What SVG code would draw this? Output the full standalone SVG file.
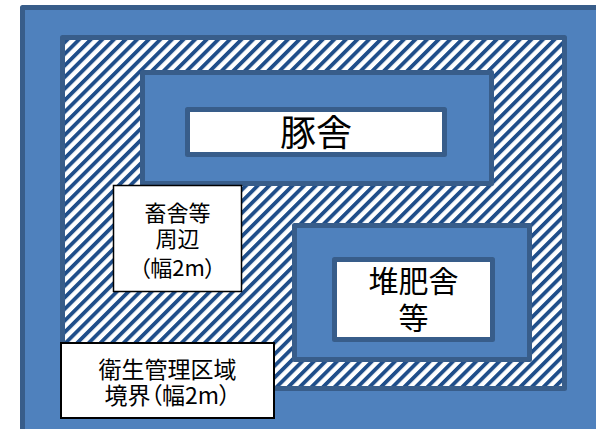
<svg xmlns="http://www.w3.org/2000/svg" width="596" height="429" viewBox="0 0 596 429">
  <style>
    .area { fill: #4F81BD; stroke: #385D8A; stroke-width: 5; stroke-linejoin: round; }
    .inner { fill: #FFFFFF; stroke: #385D8A; stroke-width: 5; stroke-linejoin: round; }
    .label { fill: #FFFFFF; stroke: #000000; }
    .t { font-family: "Noto Sans CJK JP", "Noto Sans", sans-serif; fill: #000000; text-anchor: middle; }
    .p { font-feature-settings: "palt"; }
  </style>
  <defs>
    <pattern id="hatch" patternUnits="userSpaceOnUse" width="8.2" height="8.2" patternTransform="rotate(45)">
      <rect x="0" y="0" width="8.2" height="8.2" fill="#FFFFFF"/>
      <rect x="0" y="0" width="3.8" height="8.2" fill="#1F4E8A"/>
    </pattern>
  </defs>

  <g id="outer-area">
    <rect class="area" x="22.5" y="7.5" width="580" height="425"/>
  </g>

  <g id="hatched-zone">
    <rect x="62.5" y="37.5" width="502" height="351" fill="url(#hatch)" stroke="#385D8A" stroke-width="5" stroke-linejoin="round"/>
  </g>

  <g id="pig-house-area">
    <rect class="area" x="142.5" y="72.5" width="349" height="111"/>
  </g>

  <g id="pig-house">
    <rect class="inner" x="187.5" y="109.5" width="257" height="45"/>
    <text class="t" x="316" y="146" font-size="36">豚舎</text>
  </g>

  <g id="compost-area">
    <rect class="area" x="294.5" y="225.5" width="235" height="134"/>
  </g>

  <g id="compost-house">
    <rect class="inner" x="334.5" y="259.5" width="158" height="80"/>
    <text class="t" font-size="30"><tspan x="413.5" y="292">堆肥舎</tspan><tspan x="413.5" y="328.5">等</tspan></text>
  </g>

  <g id="surroundings-label">
    <rect class="label" x="113.5" y="185.5" width="128" height="106" stroke-width="1.5"/>
    <text class="t" font-size="22"><tspan x="177.5" y="220.5">畜舎等</tspan><tspan x="177.5" y="247">周辺</tspan><tspan x="177.5" y="275.5"><tspan class="p">（</tspan>幅2m<tspan class="p">）</tspan></tspan></text>
  </g>

  <g id="boundary-label">
    <rect class="label" x="61" y="343" width="213" height="75" stroke-width="2"/>
    <text class="t" font-size="23"><tspan x="167.5" y="377.5">衛生管理区域</tspan><tspan x="167.5" y="404">境界<tspan class="p">（</tspan>幅2m<tspan class="p">）</tspan></tspan></text>
  </g>

  <g id="connectors"></g>
</svg>
